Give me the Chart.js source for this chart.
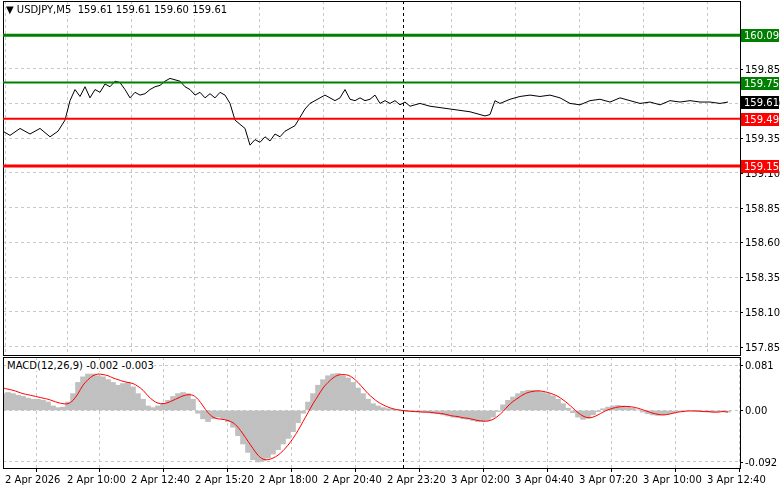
<!DOCTYPE html>
<html><head><meta charset="utf-8">
<script src="https://cdn.jsdelivr.net/npm/chart.js@4.4.0/dist/chart.umd.min.js"></script>
<style>
html,body{margin:0;padding:0;background:#fff;width:781px;height:489px;overflow:hidden}
#c1{position:absolute;left:0;top:0}
#c2{position:absolute;left:0;top:356px}
.t{position:absolute;font:10px "DejaVu Sans",sans-serif;color:#000;background:#fff;white-space:pre}
</style></head><body>
<canvas id="c1" width="781" height="356"></canvas>
<canvas id="c2" width="781" height="133"></canvas>
<div class="t" style="left:6px;top:4px">▼ USDJPY,M5  159.61 159.61 159.60 159.61</div>
<div class="t" style="left:7px;top:360px">MACD(12,26,9) -0.002 -0.003</div>
<script>
// bar index = time position (M5 bars)
const timeLabels=["2 Apr 2026","2 Apr 10:00","2 Apr 12:40","2 Apr 15:20","2 Apr 18:00","2 Apr 20:40","2 Apr 23:20","3 Apr 02:00","3 Apr 04:40","3 Apr 07:20","3 Apr 10:00","3 Apr 12:40"];
const timeTickIdx=[1,32,64,96,128,160,192,224,256,288,320,352];
const priceTicks=[157.85,158.10,158.35,158.60,158.85,159.10,159.35,159.60,159.85];
const levels=[{v:160.09,c:"#008000",w:3},{v:159.75,c:"#008000",w:2},{v:159.49,c:"#ff0000",w:2},{v:159.15,c:"#ff0000",w:3}];
const lastPrice=159.61;
const priceIdx=[0,3.5,8.5,13.5,18.5,23.5,27.5,31,33.5,36,38.5,41,43.5,46,48.5,51,53.5,56,58.5,61,63.5,66,68.5,71,73.5,76,78.5,81,83.5,86,88.5,91,93.5,96,98.5,101,103.5,106,108.5,111,113.5,116,118.5,121,123.5,126,128.5,131,133.5,136,138.5,141,143.5,146,148.5,151,153.5,156,158.5,161,163.5,166,168.5,171,173.5,176,178.5,181,183.5,186,188.5,191,193.5,196,198.5,201,203.5,208.5,213.5,218.5,223.5,228.5,233.5,238.5,241,243.5,246,248.5,253.5,258.5,263.5,268.5,273.5,278.5,283.5,288.5,293.5,298.5,303.5,308.5,313.5,318.5,323.5,328.5,333.5,338.5,343.5,348.5,353.5,358.5,362.5];
const price=[159.40,159.37,159.42,159.38,159.42,159.36,159.40,159.48,159.62,159.70,159.65,159.72,159.64,159.70,159.68,159.74,159.72,159.76,159.75,159.70,159.64,159.68,159.66,159.67,159.70,159.72,159.73,159.76,159.78,159.77,159.76,159.72,159.70,159.66,159.68,159.64,159.67,159.64,159.68,159.66,159.60,159.48,159.45,159.42,159.30,159.34,159.32,159.36,159.33,159.38,159.36,159.40,159.42,159.44,159.50,159.56,159.60,159.62,159.64,159.66,159.64,159.62,159.64,159.70,159.63,159.62,159.64,159.62,159.63,159.66,159.60,159.62,159.60,159.62,159.59,159.61,159.58,159.60,159.58,159.57,159.56,159.55,159.54,159.52,159.51,159.52,159.62,159.60,159.63,159.65,159.66,159.65,159.66,159.64,159.60,159.59,159.62,159.63,159.61,159.64,159.62,159.60,159.61,159.59,159.62,159.61,159.62,159.61,159.61,159.60,159.61];
// MACD, one value every 2.5 bars starting at bar 0
const macdHist=[.030,.032,.030,.027,.025,.022,.020,.020,.018,.015,
.008,.005,.006,.015,.030,.050,.060,.065,.065,.062,
.060,.055,.050,.045,.048,.050,.042,.030,.020,.008,
.005,.008,.012,.018,.025,.030,.032,.030,.020,-.005,
-.015,-.020,-.015,-.012,-.015,-.020,-.030,-.045,-.060,-.075,
-.088,-.092,-.090,-.085,-.078,-.070,-.060,-.050,-.038,-.022,
-.005,.015,.030,.045,.055,.062,.065,.066,.062,.058,
.050,.040,.030,.020,.012,.008,.005,.003,.002,.001,
-.001,-.002,-.002,-.003,-.003,-.004,-.005,-.006,-.008,-.010,
-.012,-.013,-.015,-.016,-.018,-.020,-.020,-.018,-.012,-.002,
.010,.018,.024,.030,.034,.036,.036,.035,.032,.030,
.026,.020,.012,.004,-.004,-.012,-.016,-.014,-.008,-.002,
.003,.006,.008,.009,.008,.006,.004,.001,-.003,-.006,
-.008,-.009,-.008,-.006,-.004,-.002,-.001,.000,-.001,-.002,
-.002,-.003,-.003,-.002,-.002,-.003];
const macdSignal=[.040,.038,.036,.033,.030,.028,.026,.024,.022,.020,
.017,.014,.012,.012,.018,.030,.045,.055,.062,.065,
.064,.062,.058,.055,.052,.050,.048,.043,.036,.026,
.018,.013,.012,.014,.018,.022,.026,.028,.027,.020,
.008,-.004,-.012,-.015,-.016,-.018,-.022,-.030,-.042,-.055,
-.068,-.080,-.087,-.088,-.085,-.080,-.072,-.062,-.050,-.036,
-.020,-.004,.012,.026,.040,.050,.058,.063,.064,.063,
.058,.050,.040,.030,.022,.015,.010,.006,.003,.001,
.000,-.001,-.002,-.002,-.003,-.003,-.004,-.005,-.006,-.008,
-.010,-.011,-.013,-.014,-.016,-.018,-.019,-.019,-.016,-.010,
-.002,.008,.016,.022,.028,.032,.034,.035,.034,.032,
.029,.025,.019,.012,.004,-.004,-.010,-.013,-.012,-.008,
-.003,.001,.004,.006,.007,.007,.006,.004,.001,-.002,
-.005,-.007,-.008,-.007,-.005,-.003,-.002,-.001,-.001,-.001,
-.002,-.002,-.003,-.003,-.002,-.003];
const macdTicks=[0.081,0,-0.092];
const macdTickLabels=["0.081","0.00","-0.092"];
const cursorIdx=200;

Chart.defaults.font.family='"DejaVu Sans",sans-serif';
Chart.defaults.font.size=10;
Chart.defaults.color='#000';
Chart.defaults.animation=false;
const grid={color:'#c8c8c8',drawTicks:false};
const bord={display:false,dash:[3,3]};
const XMAX=368.5;

const framePlugin={id:'frame',afterDatasetsDraw(ch){
  const c=ch.ctx,A=ch.chartArea,x=ch.scales.x,y=ch.scales.y;
  c.save();
  c.font='10px "DejaVu Sans",sans-serif';c.textBaseline='middle';c.fillStyle='#000';
  y.ticks.forEach((t,i)=>{const py=Math.round(y.getPixelForValue(t.value));
    c.fillRect(A.right,py,3,1);
    const lab=ch.canvas.id==='c1'?t.value.toFixed(2):macdTickLabels[i];
    c.fillText(lab,A.right+5,py+1);});
  const px=Math.round(x.getPixelForValue(cursorIdx))+0.5;
  c.strokeStyle='#000';c.setLineDash([3,3]);c.lineWidth=1;
  c.beginPath();c.moveTo(px,A.top);c.lineTo(px,A.bottom);c.stroke();
  c.setLineDash([]);
  c.strokeRect(A.left+0.5,A.top+0.5,A.right-A.left,A.bottom-A.top);
  if(ch.canvas.id==='c1'){
    levels.forEach(l=>{const py=y.getPixelForValue(l.v);c.strokeStyle=l.c;c.lineWidth=l.w;c.beginPath();c.moveTo(A.left,py);c.lineTo(A.right,py);c.stroke();});
    const boxes=levels.map(l=>({v:l.v,c:l.c})).concat([{v:lastPrice,c:'#000'}]);
    boxes.forEach(b=>{const py=Math.round(y.getPixelForValue(b.v));c.fillStyle=b.c;c.fillRect(A.right+1,py-6,38,13);c.fillStyle='#fff';c.fillText(b.v.toFixed(2),A.right+4,py+1);});
  }
  c.restore();
}};

new Chart(document.getElementById('c1'),{
  type:'line',
  data:{datasets:[{data:priceIdx.map((t,i)=>({x:t,y:price[i]})),borderColor:'#000',borderWidth:1,pointRadius:0,tension:0}]},
  options:{responsive:false,layout:{padding:{left:3,top:1,bottom:1,right:0}},
    plugins:{legend:{display:false},tooltip:{enabled:false}},
    scales:{
      x:{type:'linear',min:0,max:XMAX,grid:grid,border:bord,
        afterBuildTicks(s){s.ticks=timeTickIdx.map(v=>({value:v}));},afterFit(s){s.height=0;},ticks:{display:false}},
      y:{position:'right',min:157.79,max:160.337,grid:grid,border:bord,
        afterBuildTicks(s){s.ticks=priceTicks.map(v=>({value:v}));},
        afterFit(s){s.width=41;},ticks:{display:false}}
    }},
  plugins:[framePlugin]
});

new Chart(document.getElementById('c2'),{
  type:'bar',
  data:{datasets:[
    {type:'line',data:macdSignal.map((v,i)=>({x:i*2.5,y:v})),borderColor:'#ff0000',borderWidth:1,pointRadius:0,tension:0.3},
    {type:'bar',data:macdHist.map((v,i)=>({x:i*2.5,y:v})),backgroundColor:'#c0c0c0',barThickness:5,grouped:false}
  ]},
  options:{responsive:false,layout:{padding:{left:3,top:1,bottom:0,right:0}},
    plugins:{legend:{display:false},tooltip:{enabled:false}},
    scales:{
      x:{type:'linear',min:0,max:XMAX,offset:false,grid:{color:'#c8c8c8',drawTicks:true,tickLength:4,tickColor:'#000'},border:bord,
        afterBuildTicks(s){s.ticks=timeTickIdx.map(v=>({value:v}));},
        afterFit(s){s.height=21;},
        ticks:{align:'start',maxRotation:0,autoSkip:false,padding:2,callback:(v,i)=>timeLabels[i]}},
      y:{position:'right',min:-0.1028,max:0.0954,grid:grid,border:bord,
        afterBuildTicks(s){s.ticks=macdTicks.map(v=>({value:v}));},
        afterFit(s){s.width=41;},ticks:{display:false}}
    }},
  plugins:[framePlugin]
});
</script></body></html>
